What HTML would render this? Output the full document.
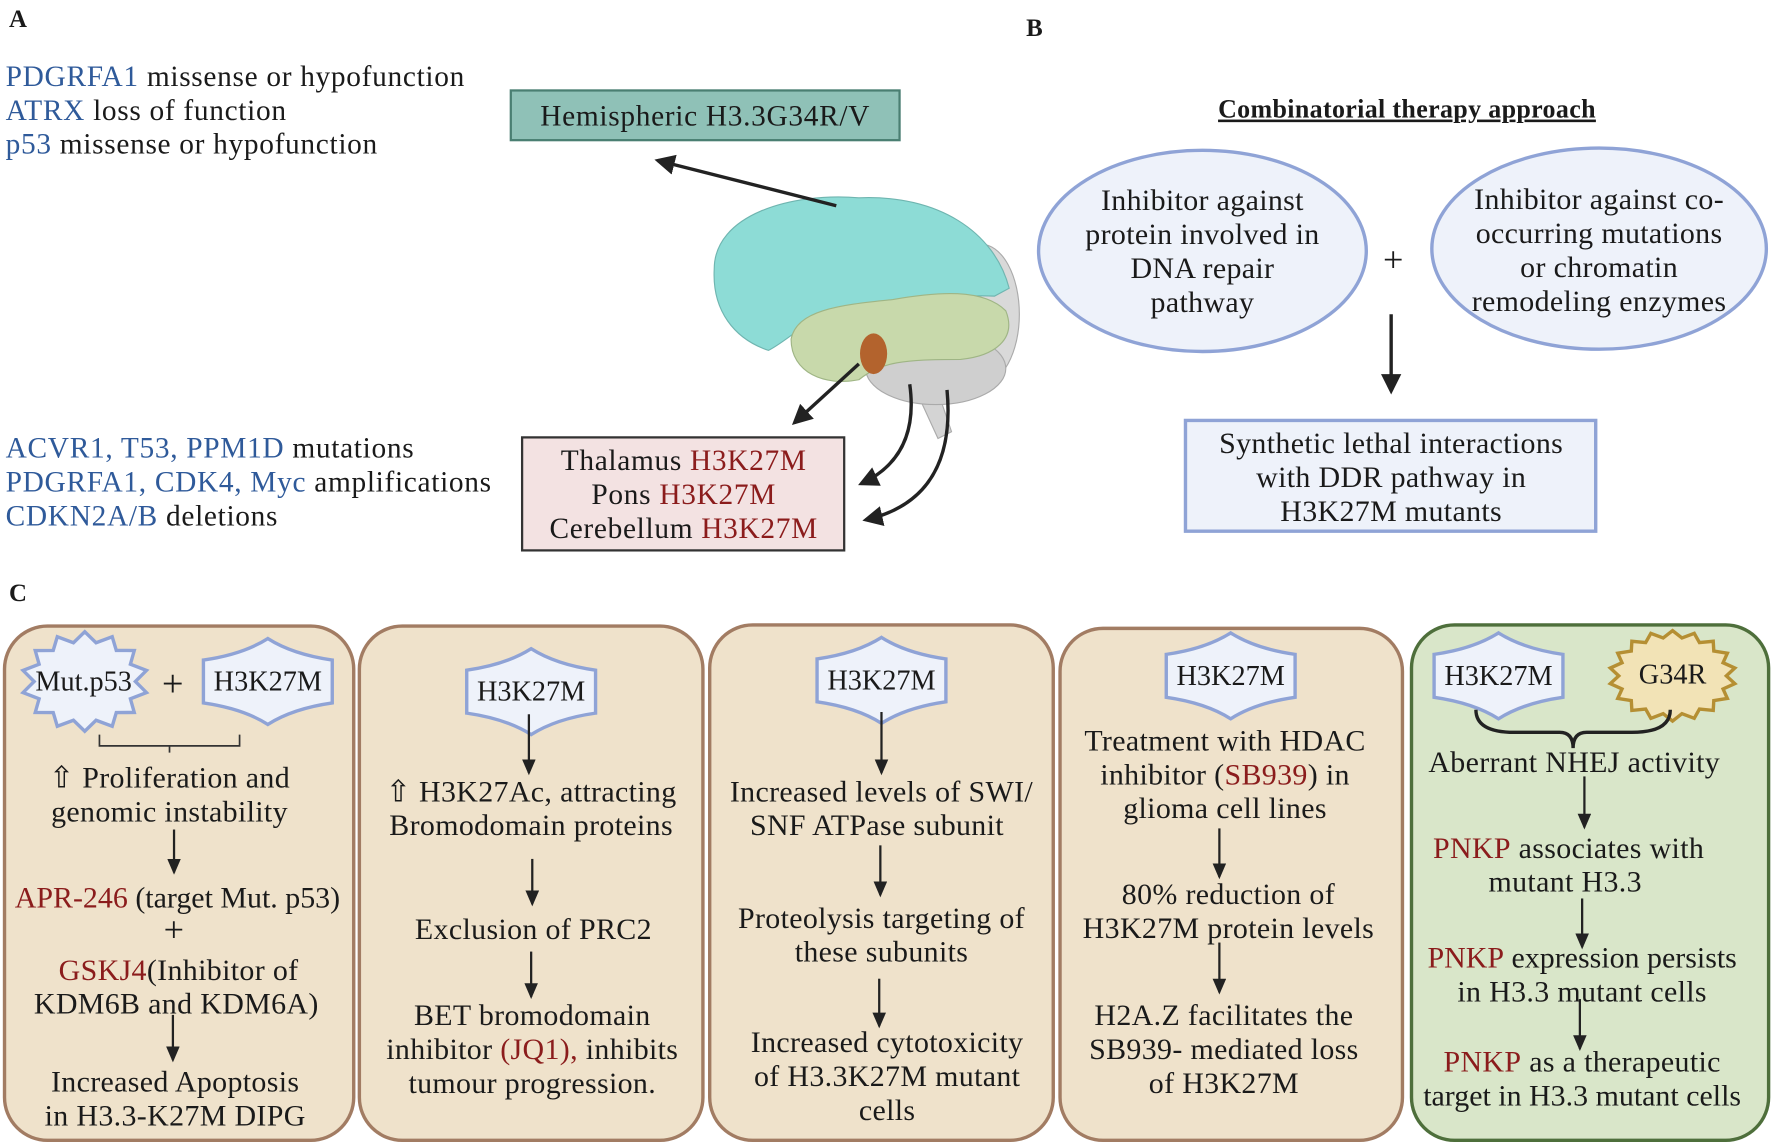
<!DOCTYPE html>
<html><head><meta charset="utf-8"><style>
html,body{margin:0;padding:0;background:#fff;width:1772px;height:1146px;overflow:hidden}
svg{display:block}
text{font-family:"Liberation Serif",serif;font-size:26px;letter-spacing:0.6px;fill:#1a1a1a}
.b{fill:#2f5a9a}.r{fill:#8b1c1c}
.c text{text-anchor:middle;font-size:26.5px;letter-spacing:0.3px}
</style></head><body>
<svg width="1772" height="1146" viewBox="0 0 1568 1014" xmlns="http://www.w3.org/2000/svg">
<defs>
<marker id="ah" markerWidth="6" markerHeight="6" refX="5" refY="3" orient="auto" markerUnits="strokeWidth"><path d="M0,0 L6,3 L0,6 Z" fill="#222"/></marker>
<marker id="ah2" markerWidth="7" markerHeight="6" refX="6" refY="3" orient="auto" markerUnits="strokeWidth"><path d="M0,0 L7,3 L0,6 Z" fill="#222"/></marker>
<path id="hex" d="M0,-38 Q22,-24 57,-19 L57,19 Q22,24 0,38 Q-22,24 -57,19 L-57,-19 Q-22,-24 0,-38Z" fill="#eef2fa" stroke="#8fa3d6" stroke-width="3"/>
</defs>
<!-- Panel A -->
<text x="8" y="24" style="font-weight:bold;font-size:22px">A</text>
<text x="5" y="76"><tspan class="b">PDGRFA1</tspan> missense or hypofunction</text>
<text x="5" y="106"><tspan class="b">ATRX</tspan> loss of function</text>
<text x="5" y="136"><tspan class="b">p53</tspan> missense or hypofunction</text>
<rect x="452" y="80" width="344" height="44" fill="#8fc1b7" stroke="#4a7f72" stroke-width="2"/>
<text x="624" y="111" text-anchor="middle">Hemispheric H3.3G34R/V</text>
<!-- brain -->
<ellipse cx="868" cy="278" rx="34" ry="62" fill="#d9d9d9" stroke="#aaa"/>
<path d="M808,340 L830,388 L842,382 L826,335Z" fill="#d4d4d4" stroke="#aaa"/>
<ellipse cx="828" cy="326" rx="62" ry="32" fill="#cfcfcf" stroke="#aaa"/>
<path d="M632,238 C632,190 700,170 760,175 C830,172 880,205 893,255 L880,262 C840,260 790,270 760,270 C720,275 700,300 680,310 C650,300 630,275 632,238Z" fill="#8ddcd6" stroke="#6fb5b0"/>
<path d="M700,300 C705,275 740,270 790,265 C830,258 870,255 890,275 C900,300 880,315 850,318 C800,318 780,320 760,336 C730,342 700,330 700,300Z" fill="#c8d9ab" stroke="#9fb585"/>
<ellipse cx="773" cy="313" rx="12" ry="18" fill="#b3632d"/>
<line x1="740" y1="182" x2="582" y2="142" stroke="#222" stroke-width="3" marker-end="url(#ah)"/>
<line x1="760" y1="322" x2="703" y2="374" stroke="#222" stroke-width="3" marker-end="url(#ah)"/>
<path d="M805,340 C812,390 790,415 762,428" fill="none" stroke="#222" stroke-width="3" marker-end="url(#ah)"/>
<path d="M838,345 C845,420 810,450 766,460" fill="none" stroke="#222" stroke-width="3" marker-end="url(#ah)"/>
<rect x="462" y="387" width="285" height="100" fill="#f3e2e2" stroke="#333" stroke-width="2"/>
<text x="605" y="416" text-anchor="middle">Thalamus <tspan class="r">H3K27M</tspan></text>
<text x="605" y="446" text-anchor="middle">Pons <tspan class="r">H3K27M</tspan></text>
<text x="605" y="476" text-anchor="middle">Cerebellum  <tspan class="r">H3K27M</tspan></text>
<text x="5" y="405"><tspan class="b">ACVR1, T53, PPM1D</tspan> mutations</text>
<text x="5" y="435"><tspan class="b">PDGRFA1, CDK4, Myc</tspan> amplifications</text>
<text x="5" y="465"><tspan class="b">CDKN2A/B</tspan> deletions</text>
<!-- Panel B -->
<text x="908" y="32" style="font-weight:bold;font-size:22px">B</text>
<text x="1245" y="104" text-anchor="middle" style="font-weight:bold;font-size:23px;letter-spacing:0.3px;text-decoration:underline">Combinatorial therapy approach</text>
<g class="c">
<ellipse cx="1064" cy="222" rx="145" ry="89" fill="#eef2fa" stroke="#8fa3d6" stroke-width="3"/>
<text x="1064" y="186">Inhibitor against</text><text x="1064" y="216">protein involved in</text><text x="1064" y="246">DNA repair</text><text x="1064" y="276">pathway</text>
<text x="1233" y="240" style="font-size:32px">+</text>
<ellipse cx="1415" cy="220" rx="148" ry="89" fill="#eef2fa" stroke="#8fa3d6" stroke-width="3"/>
<text x="1415" y="185">Inhibitor against co-</text><text x="1415" y="215">occurring mutations</text><text x="1415" y="245">or chromatin</text><text x="1415" y="275">remodeling enzymes</text>
<line x1="1231" y1="278" x2="1231" y2="346" stroke="#222" stroke-width="3" marker-end="url(#ah)"/>
<rect x="1049" y="372" width="363" height="98" fill="#eef2fa" stroke="#8fa3d6" stroke-width="3"/>
<text x="1231" y="401">Synthetic lethal interactions</text><text x="1231" y="431">with DDR pathway in</text><text x="1231" y="461">H3K27M mutants</text>
</g>
<!-- Panel C -->
<text x="8" y="532" style="font-weight:bold;font-size:22px">C</text>
<g stroke-width="3">
<rect x="4" y="554" width="309" height="455" rx="38" fill="#efe2cb" stroke="#a27c63"/>
<rect x="318" y="554" width="304" height="455" rx="38" fill="#efe2cb" stroke="#a27c63"/>
<rect x="628" y="553" width="304" height="456" rx="38" fill="#efe2cb" stroke="#a27c63"/>
<rect x="938" y="556" width="303" height="453" rx="38" fill="#efe2cb" stroke="#a27c63"/>
<rect x="1249" y="553" width="316" height="456" rx="38" fill="#d9e6c9" stroke="#4e6f3b"/>
</g>
<polygon id="s1" fill="#eef2fa" stroke="#8fa3d6" stroke-width="3"/>
<polygon id="s2" fill="#f2e3b6" stroke="#b58f33" stroke-width="3"/>
<use href="#hex" x="237" y="603"/>
<use href="#hex" x="470" y="612"/>
<use href="#hex" x="780" y="602"/>
<use href="#hex" x="1089" y="598"/>
<use href="#hex" x="1326" y="598"/>
<path d="M88,650 L88,660 L212,660 L212,650 M150,660 L150,666" fill="none" stroke="#333" stroke-width="1.5"/>
<path d="M1306,628 Q1306,648 1340,648 L1380,648 Q1392,648 1392,662 Q1392,648 1404,648 L1444,648 Q1478,648 1478,628" fill="none" stroke="#222" stroke-width="3"/>
<g stroke="#222" stroke-width="2" marker-end="url(#ah2)">
<line x1="154" y1="734" x2="154" y2="772"/><line x1="153" y1="898" x2="153" y2="938"/>
<line x1="468" y1="632" x2="468" y2="684"/><line x1="471" y1="760" x2="471" y2="800"/><line x1="470" y1="842" x2="470" y2="882"/>
<line x1="780" y1="630" x2="780" y2="684"/><line x1="779" y1="748" x2="779" y2="792"/><line x1="778" y1="866" x2="778" y2="908"/>
<line x1="1079" y1="733" x2="1079" y2="776"/><line x1="1079" y1="834" x2="1079" y2="878"/>
<line x1="1402" y1="687" x2="1402" y2="732"/><line x1="1400" y1="795" x2="1400" y2="838"/><line x1="1398" y1="884" x2="1398" y2="928"/>
</g>
<g class="c">
<text x="74" y="611" style="font-size:25px;letter-spacing:0">Mut.p53</text><text x="153" y="616" style="font-size:34px">+</text><text x="237" y="611" style="font-size:25px;letter-spacing:0">H3K27M</text>
<text x="150" y="697">⇧ Proliferation and</text><text x="150" y="727">genomic instability</text>
<text x="157" y="803" style="letter-spacing:0">
<tspan class="r">APR-246</tspan> (target Mut. p53)</text>
<text x="154" y="833" style="font-size:32px">+</text>
<text x="158" y="867"><tspan class="r">GSKJ4</tspan>(Inhibitor of</text><text x="156" y="897">KDM6B and KDM6A)</text>
<text x="155" y="966">Increased Apoptosis</text><text x="155" y="996">in H3.3-K27M DIPG</text>
<text x="470" y="620" style="font-size:25px;letter-spacing:0">H3K27M</text>
<text x="470" y="709">⇧ H3K27Ac, attracting</text><text x="470" y="739">Bromodomain proteins</text>
<text x="472" y="831">Exclusion of PRC2</text>
<text x="471" y="907">BET bromodomain</text><text x="471" y="937">inhibitor <tspan class="r">(JQ1),</tspan> inhibits</text><text x="471" y="967">tumour progression.</text>
<text x="780" y="610" style="font-size:25px;letter-spacing:0">H3K27M</text>
<text x="780" y="709">Increased levels of SWI/</text><text x="776" y="739">SNF ATPase subunit</text>
<text x="780" y="821">Proteolysis targeting of</text><text x="780" y="851">these subunits</text>
<text x="785" y="931">Increased cytotoxicity</text><text x="785" y="961">of H3.3K27M mutant</text><text x="785" y="991">cells</text>
<text x="1089" y="606" style="font-size:25px;letter-spacing:0">H3K27M</text>
<text x="1084" y="664">Treatment with HDAC</text><text x="1084" y="694">inhibitor (<tspan class="r">SB939</tspan>) in</text><text x="1084" y="724">glioma cell lines</text>
<text x="1087" y="800">80% reduction of</text><text x="1087" y="830">H3K27M protein levels</text>
<text x="1083" y="907">H2A.Z facilitates the</text><text x="1083" y="937">SB939- mediated loss</text><text x="1083" y="967">of H3K27M</text>
<text x="1326" y="606" style="font-size:25px;letter-spacing:0">H3K27M</text><text x="1480" y="605" style="font-size:25px;letter-spacing:0">G34R</text>
<text x="1393" y="683">Aberrant NHEJ activity</text>
<text x="1388" y="759"><tspan class="r">PNKP</tspan> associates with</text><text x="1385" y="789">mutant H3.3</text>
<text x="1400" y="856" style="letter-spacing:0"><tspan class="r">PNKP</tspan> expression persists</text><text x="1400" y="886">in H3.3 mutant cells</text>
<text x="1400" y="948"><tspan class="r">PNKP</tspan> as a therapeutic</text><text x="1400" y="978" style="letter-spacing:0">target in H3.3 mutant cells</text>
</g>
</svg>
<script>
function star(id,cx,cy,rx,ry,n,k){var p=[];for(var i=0;i<2*n;i++){var a=Math.PI*i/n-Math.PI/2;var f=i%2?k:1;p.push((cx+rx*f*Math.cos(a)).toFixed(1)+","+(cy+ry*f*Math.sin(a)).toFixed(1));}document.getElementById(id).setAttribute("points",p.join(" "));}
star("s1",75,603,56,44,14,0.8);
star("s2",1480,598,56,40,18,0.85);
</script>
</body></html>
